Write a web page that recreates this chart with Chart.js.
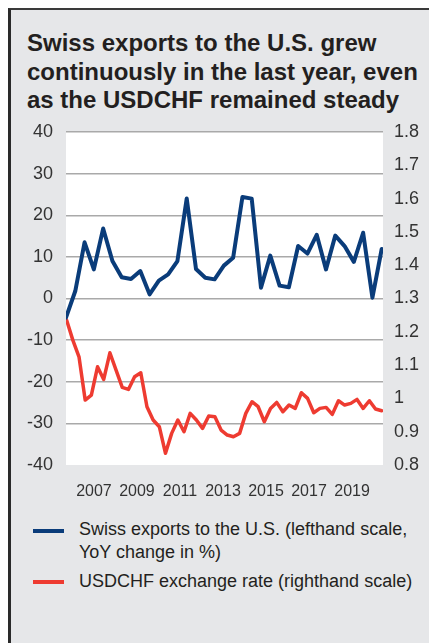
<!DOCTYPE html>
<html><head><meta charset="utf-8">
<script src="https://cdn.jsdelivr.net/npm/chart.js@4.4.0/dist/chart.umd.min.js"></script>
<style>
html,body{margin:0;padding:0;background:#fff;width:429px;height:643px;overflow:hidden;font-family:"Liberation Sans",Arial,sans-serif;}
#frame{position:absolute;left:8px;top:8px;width:421px;height:635px;box-sizing:border-box;background:#e6e7e9;border-left:3px solid #2a2a2a;border-top:2px solid #3a3a3a;}
#title{position:absolute;left:27px;top:29px;font-weight:bold;font-size:24px;line-height:28.5px;color:#231f20;white-space:nowrap;}
#wrap{position:absolute;left:0;top:112px;width:429px;height:400px;}
.lg{position:absolute;left:79px;font-size:18px;line-height:23px;color:#231f20;white-space:nowrap;}
.mk{position:absolute;left:33px;width:31px;height:4px;}
</style></head>
<body>
<div id="frame"></div>
<div id="title">Swiss exports to the U.S. grew<br>continuously in the last year, even<br>as the USDCHF remained steady</div>
<div id="wrap"><canvas id="c" width="429" height="400"></canvas></div>
<div id="legend"></div>
<script>
// ---- data ----
const tickYears = [2007, 2009, 2011, 2013, 2015, 2017, 2019];
const exportsYoY = [-4.6, 1.8, 13.5, 7.0, 16.8, 9.0, 5.1, 4.7, 6.6, 1.0,
  4.3, 5.8, 9.0, 24.0, 7.1, 5.0, 4.6, 7.9, 9.8, 24.4,
  24.0, 2.6, 10.3, 3.1, 2.7, 12.6, 10.8, 15.3, 7.0, 15.1,
  12.6, 8.8, 15.8, 0.2, 11.9];
const usdchf = [1.235, 1.175, 1.125, 0.995, 1.01, 1.095, 1.057, 1.137, 1.085, 1.033,
  1.027, 1.065, 1.077, 0.975, 0.935, 0.915, 0.835, 0.895, 0.935, 0.90,
  0.955, 0.935, 0.91, 0.947, 0.945, 0.905, 0.89, 0.885, 0.895, 0.955,
  0.99, 0.975, 0.93, 0.97, 0.988, 0.96, 0.98, 0.97, 1.017, 1.0,
  0.957, 0.97, 0.973, 0.952, 0.993, 0.98, 0.985, 0.997, 0.97, 0.993,
  0.968, 0.963];
const axisStart = 2005.70, axisEnd = 2020.44;
const exportsSpan = [2005.70, 2020.38];
const fxSpan = [2005.73, 2020.38];
const seriesNames = ["Swiss exports to the U.S. (lefthand scale,\nYoY change in %)", "USDCHF exchange rate (righthand scale)"];
const seriesColors = ["#0a3c7a", "#ee3b31"];

function toPoints(vals, span) {
  const n = vals.length;
  return vals.map((v, i) => ({ x: span[0] + i * (span[1] - span[0]) / (n - 1), y: v }));
}

const whiteArea = {
  id: 'whiteArea',
  beforeDraw(chart) {
    const { ctx, chartArea: a } = chart;
    ctx.save(); ctx.fillStyle = '#fff';
    ctx.fillRect(a.left, a.top, a.right - a.left, a.bottom - a.top);
    ctx.restore();
  }
};

const tickFont = { family: '"Liberation Sans", Arial, sans-serif', size: 18 };
const chart = new Chart(document.getElementById('c'), {
  type: 'line',
  data: {
    datasets: [
      { label: seriesNames[0], data: toPoints(exportsYoY, exportsSpan), yAxisID: 'yL',
        borderColor: seriesColors[0], borderWidth: 4, pointRadius: 0, tension: 0,
        borderJoinStyle: 'round', borderCapStyle: 'round' },
      { label: seriesNames[1], data: toPoints(usdchf, fxSpan), yAxisID: 'yR',
        borderColor: seriesColors[1], borderWidth: 3.5, pointRadius: 0, tension: 0,
        borderJoinStyle: 'round', borderCapStyle: 'round' }
    ]
  },
  options: {
    responsive: false, animation: false, devicePixelRatio: 1,
    layout: { padding: { top: 20, left: 0, right: 0, bottom: 0 } },
    plugins: { legend: { display: false }, tooltip: { enabled: false } },
    scales: {
      x: {
        type: 'linear', min: axisStart, max: axisEnd,
        afterBuildTicks: s => { s.ticks = tickYears.map(v => ({ value: v })); },
        afterFit: s => { s.height = 47; },
        ticks: { callback: v => String(v), color: '#333', font: { ...tickFont, size: 16 }, padding: 17, maxRotation: 0, autoSkip: false },
        grid: { display: false, drawTicks: false }, border: { display: false }
      },
      yL: {
        position: 'left', min: -40, max: 40,
        afterFit: s => { s.width = 66; s.paddingTop = 0; s.paddingBottom = 0; },
        ticks: { stepSize: 10, color: '#333', font: tickFont, padding: 13 },
        grid: { color: c => (c.tick && c.tick.value === -40) ? 'rgba(0,0,0,0)' : '#a9a9a9', lineWidth: 1.5, drawTicks: false },
        border: { display: false }
      },
      yR: {
        position: 'right', min: 0.8, max: 1.8,
        afterFit: s => { s.width = 46; s.paddingTop = 0; s.paddingBottom = 0; },
        ticks: { stepSize: 0.1, color: '#333', font: tickFont, padding: 11, callback: v => String(Number(v.toFixed(1))) },
        grid: { display: false, drawTicks: false }, border: { display: false }
      }
    }
  },
  plugins: [whiteArea]
});

// HTML legend built from datasets
const legend = document.getElementById('legend');
const textTops = [518, 570];
const markTops = [529, 580];
chart.data.datasets.forEach((ds, i) => {
  const m = document.createElement('div');
  m.className = 'mk'; m.style.top = markTops[i] + 'px'; m.style.background = ds.borderColor;
  legend.appendChild(m);
  const t = document.createElement('div');
  t.className = 'lg'; t.style.top = textTops[i] + 'px';
  t.innerHTML = ds.label.split('\n').join('<br>');
  legend.appendChild(t);
});
</script>
</body></html>
